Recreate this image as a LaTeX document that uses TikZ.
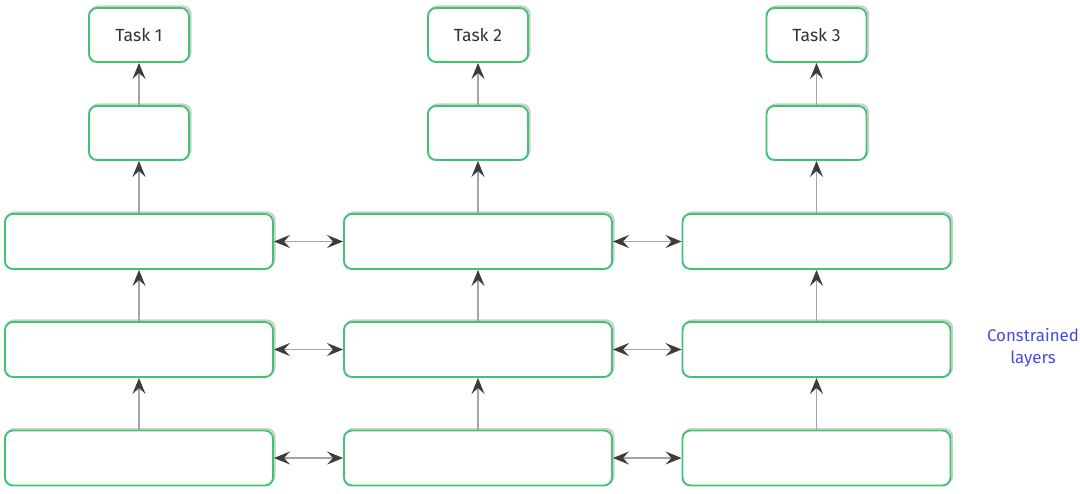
\documentclass[tikz,border=0pt]{standalone}
\usepackage{fontspec}
\setmainfont{Fira Sans}
\usetikzlibrary{arrows.meta}
\definecolor{boxgreen}{RGB}{64,196,116}
\definecolor{shadowgray}{RGB}{205,205,205}
\definecolor{headgray}{RGB}{60,60,60}
\definecolor{linegray}{RGB}{165,165,165}
\definecolor{labelblue}{RGB}{72,72,230}
\tikzset{
  layerbox/.style={draw=boxgreen, line width=0.55pt, rounded corners=0.08cm, fill=white,
    inner sep=0pt, font=\fontsize{5}{6}\selectfont\color{black!80},
    preaction={draw=shadowgray, line width=0.5pt, transform canvas={shift={(0.018,0.018)}}}},
  bigbox/.style={layerbox, minimum width=2.68cm, minimum height=0.55cm},
  smallbox/.style={layerbox, minimum width=1.0cm, minimum height=0.54cm},
  conn/.style={draw=linegray, line width=0.3pt,
    -{Stealth[length=0.16cm, width=0.13cm, inset=0.06cm, color=headgray]}},
  biconn/.style={draw=linegray, line width=0.3pt,
    {Stealth[length=0.16cm, width=0.13cm, inset=0.06cm, color=headgray]}-{Stealth[length=0.16cm, width=0.13cm, inset=0.06cm, color=headgray]}}
}
\begin{document}
\begin{tikzpicture}
\useasboundingbox (0,0) rectangle (10.8,4.93);
\foreach \c/\x in {1/1.39, 2/4.78, 3/8.165} {
  \node[bigbox] (a\c) at (\x,0.35) {};
  \node[bigbox] (b\c) at (\x,1.435) {};
  \node[bigbox] (c\c) at (\x,2.515) {};
  \node[smallbox] (d\c) at (\x,3.6) {};
  \node[smallbox] (t\c) at (\x,4.58) {Task \c};
}
\foreach \c in {1,2,3} {
  \draw[conn] (a\c.north) -- (b\c.south);
  \draw[conn] (b\c.north) -- (c\c.south);
  \draw[conn] (c\c.north) -- (d\c.south);
  \draw[conn] (d\c.north) -- (t\c.south);
}
\foreach \r in {a,b,c} {
  \draw[biconn] (\r1.east) -- (\r2.west);
  \draw[biconn] (\r2.east) -- (\r3.west);
}
\node[align=center, text=labelblue, font=\fontsize{4.8}{6.1}\selectfont] (lbl) at (10.33,1.455) {Constrained\\layers};
\end{tikzpicture}
\end{document}
